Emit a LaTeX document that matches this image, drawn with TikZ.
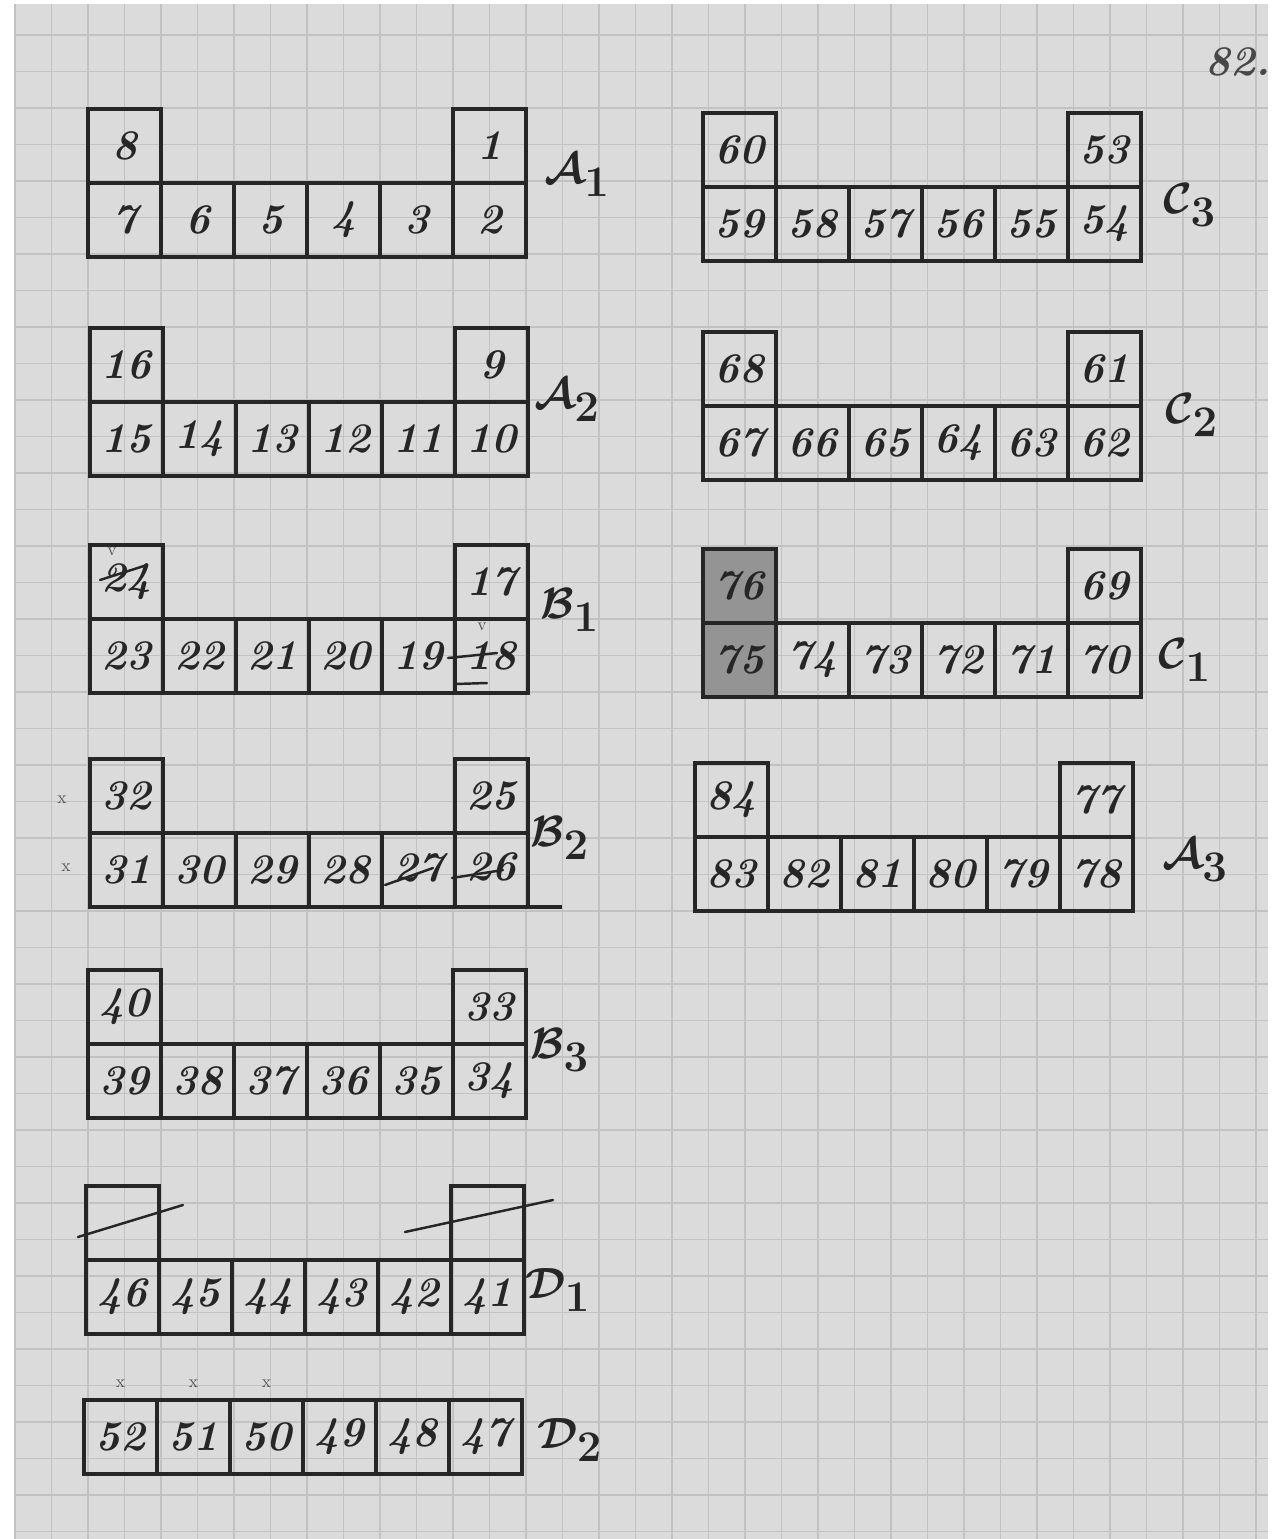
\documentclass[tikz,border=0pt]{standalone}
\usetikzlibrary{positioning,calc}
\definecolor{paper}{gray}{0.86}
\definecolor{gridline}{gray}{0.76}
\definecolor{ink}{gray}{0.15}
\newcommand{\handfont}{\fontsize{24}{26}\selectfont\bfseries\itshape}
\newcommand{\tagfont}{\fontsize{38}{42}\selectfont\boldmath}
\tikzset{
  cell/.style={draw=ink, line width=2.6pt, minimum width=1.46cm, minimum height=1.48cm, inner sep=0pt, outer sep=0pt, font=\handfont, text=ink},
  shaded/.style={cell, fill=black!42},
  blabel/.style={font=\tagfont, text=ink},
  strike/.style={draw=ink, line width=1.4pt, line cap=round},
  pencil/.style={font=\fontsize{10}{11}\selectfont, text=ink!80, inner sep=1pt}
}
\begin{document}
\begin{tikzpicture}[x=0.02cm, y=-0.02cm]
\useasboundingbox (0,0) rectangle (1275,1539);
\fill[white] (0,0) rectangle (1275,1539);
\fill[paper] (15,4) rectangle (1268,1539);
% squared paper
\foreach \gx in {15,51.5,...,1268}
  \draw[gridline, line width=0.8pt] (\gx,4) -- (\gx,1539);
\foreach \gy in {35,71.5,...,1539}
  \draw[gridline, line width=0.8pt] (15,\gy) -- (1268,\gy);

% left column
\foreach \n [count=\i from 0] in {7,6,5,4,3,2}
  \node[cell] (a1-\i) at ({124.5+73*\i},220) {\n};
\node[cell, above=0pt of a1-0] (a1-tl) {8};
\node[cell, above=0pt of a1-5] (a1-tr) {1};
\node[blabel] (a1-lab) at (577,175) {$\mathcal{A}_1$};

\foreach \n [count=\i from 0] in {15,14,13,12,11,10}
  \node[cell] (a2-\i) at ({126.5+73*\i},439) {\n};
\node[cell, above=0pt of a2-0] (a2-tl) {16};
\node[cell, above=0pt of a2-5] (a2-tr) {9};
\node[blabel] (a2-lab) at (567,400) {$\mathcal{A}_2$};

\foreach \n [count=\i from 0] in {23,22,21,20,19}
  \node[cell] (b1-\i) at ({126.5+73*\i},656) {\n};
\node[cell] (b1-5) at (491.5,656) {\raisebox{-4pt}{18}};
\node[cell, above=0pt of b1-0] (b1-tl) {\raisebox{-9pt}{24}};
\node[cell, above=0pt of b1-5] (b1-tr) {17};
\node[blabel] (b1-lab) at (570,610) {$\mathcal{B}_1$};
\node[pencil] (b1-v1) at (112,552) {v};
\draw[strike] (100,580) -- (147,565);
\node[pencil] (b1-v2) at (482,627) {v};
\draw[strike] (448,658) -- (497,653);
\draw[strike] (455,684) -- (487,683);

\foreach \n [count=\i from 0] in {31,30,29,28}
  \node[cell] (b2-\i) at ({126.5+73*\i},870) {\n};
\node[cell] (b2-4) at (418.5,870) {\raisebox{3pt}{27}};
\node[cell] (b2-5) at (491.5,870) {\raisebox{4pt}{26}};
\node[cell, above=0pt of b2-0] (b2-tl) {32};
\node[cell, above=0pt of b2-5] (b2-tr) {25};
\node[blabel] (b2-lab) at (560,838) {$\mathcal{B}_2$};
\draw[ink, line width=2.6pt] (b2-5.south east) -- ++(34,0);
\draw[strike] (385,885) -- (433,868);
\draw[strike] (452,878) -- (503,870);
\node[pencil] (b2-x1) at (62,800) {x};
\node[pencil] (b2-x2) at (66,868) {x};

\foreach \n [count=\i from 0] in {39,38,37,36,35,34}
  \node[cell] (b3-\i) at ({124.5+73*\i},1081) {\n};
\node[cell, above=0pt of b3-0] (b3-tl) {40};
\node[cell, above=0pt of b3-5] (b3-tr) {33};
\node[blabel] (b3-lab) at (560,1050) {$\mathcal{B}_3$};

\foreach \n [count=\i from 0] in {46,45,44,43,42,41}
  \node[cell] (d1-\i) at ({122.5+73*\i},1297) {\n};
\node[cell, above=0pt of d1-0] (d1-tl) {};
\node[cell, above=0pt of d1-5] (d1-tr) {};
\node[blabel] (d1-lab) at (558,1290) {$\mathcal{D}_1$};
\draw[strike] (78,1237) -- (183,1205);
\draw[strike] (405,1232) -- (553,1200);

\foreach \n [count=\i from 0] in {52,51,50,49,48,47}
  \node[cell] (d2-\i) at ({120.5+73*\i},1437) {\n};
\node[blabel] (d2-lab) at (570,1440) {$\mathcal{D}_2$};
\foreach \i in {0,1,2}
  \node[pencil, above=6pt of d2-\i] (d2-x\i) {x};

% right column
\node[font=\handfont, text=ink!85] (page) at (1238,62) {82.};

\foreach \n [count=\i from 0] in {59,58,57,56,55,54}
  \node[cell] (c3-\i) at ({739.5+73*\i},224) {\n};
\node[cell, above=0pt of c3-0] (c3-tl) {60};
\node[cell, above=0pt of c3-5] (c3-tr) {53};
\node[blabel] (c3-lab) at (1190,205) {$\mathcal{C}_3$};

\foreach \n [count=\i from 0] in {67,66,65,64,63,62}
  \node[cell] (c2-\i) at ({739.5+73*\i},443) {\n};
\node[cell, above=0pt of c2-0] (c2-tl) {68};
\node[cell, above=0pt of c2-5] (c2-tr) {61};
\node[blabel] (c2-lab) at (1192,415) {$\mathcal{C}_2$};

\node[shaded] (c1-0) at (739.5,660) {75};
\foreach \n [count=\i from 1] in {74,73,72,71,70}
  \node[cell] (c1-\i) at ({739.5+73*\i},660) {\n};
\node[shaded, above=0pt of c1-0] (c1-tl) {76};
\node[cell, above=0pt of c1-5] (c1-tr) {69};
\node[blabel] (c1-lab) at (1185,660) {$\mathcal{C}_1$};

\foreach \n [count=\i from 0] in {83,82,81,80,79,78}
  \node[cell] (a3-\i) at ({731.5+73*\i},874) {\n};
\node[cell, above=0pt of a3-0] (a3-tl) {84};
\node[cell, above=0pt of a3-5] (a3-tr) {77};
\node[blabel] (a3-lab) at (1195,860) {$\mathcal{A}_3$};
\end{tikzpicture}
\end{document}
